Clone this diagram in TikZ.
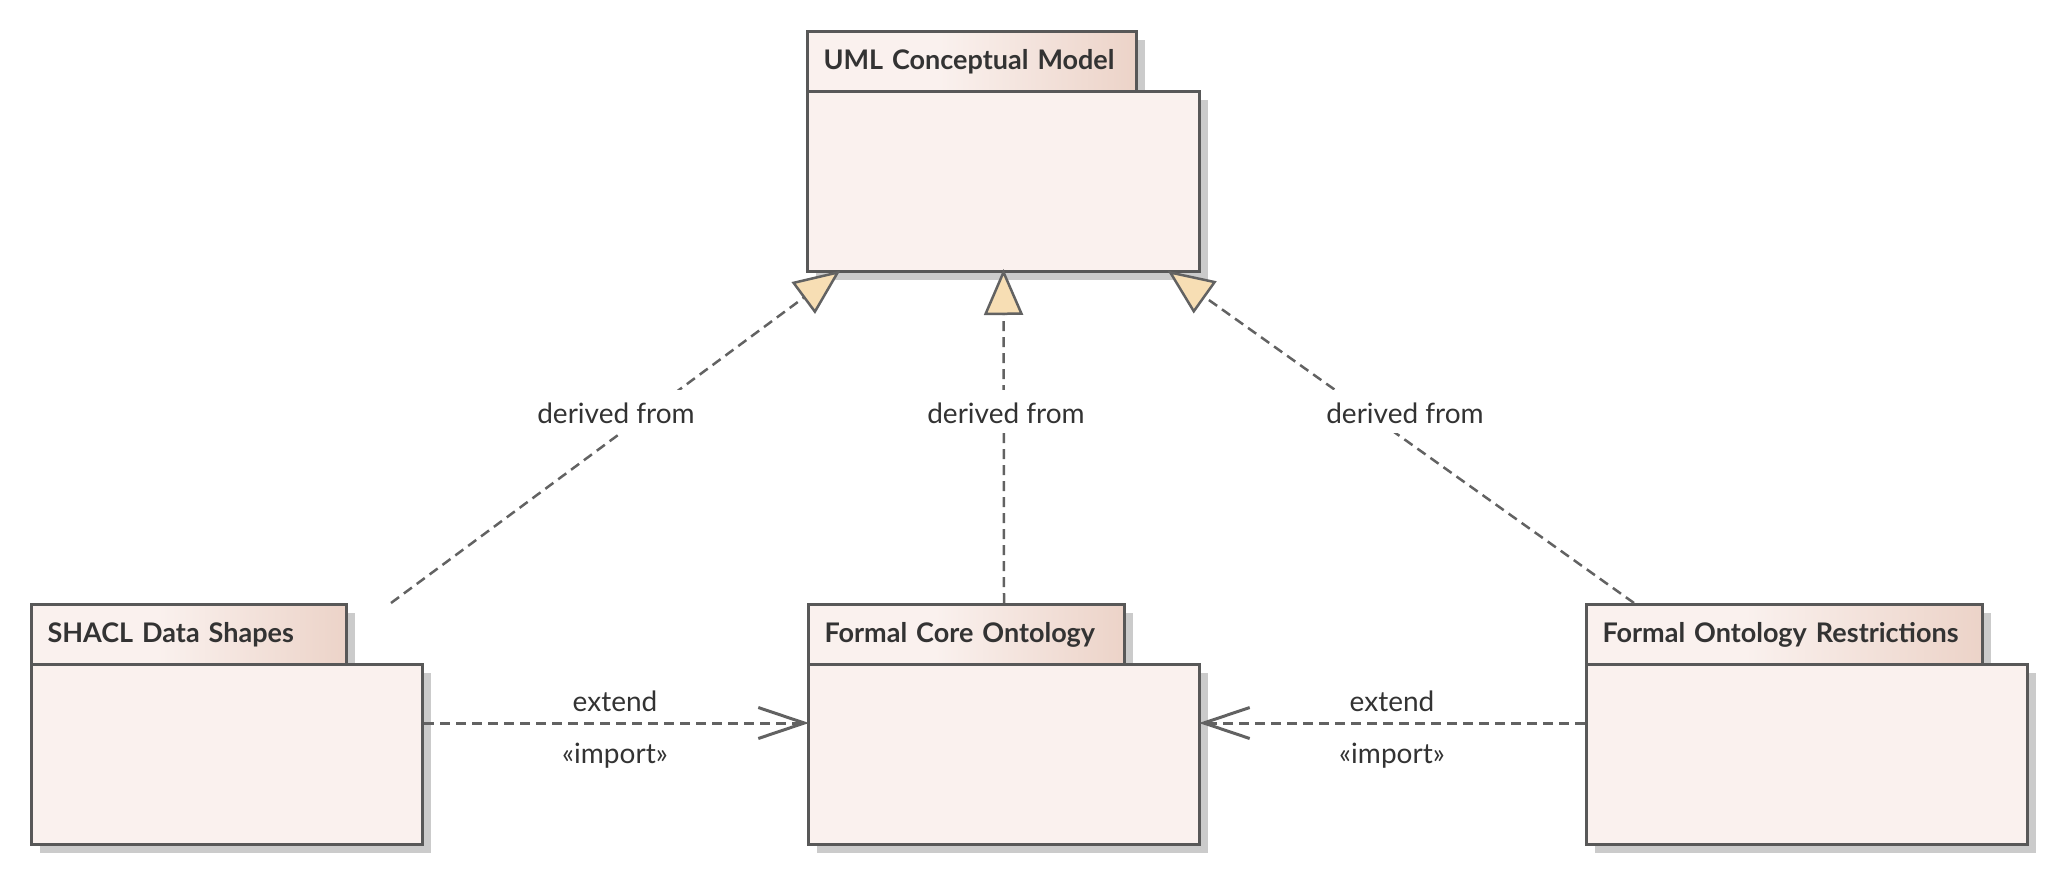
\documentclass[tikz,border=0pt]{standalone}
\usepackage{fontspec}
\setmainfont{Lato}
\usetikzlibrary{arrows.meta,shadows,calc}
\definecolor{bord}{RGB}{88,88,88}
\definecolor{conn}{RGB}{98,98,98}
\definecolor{bodyfill}{RGB}{250,241,238}
\definecolor{tabL}{RGB}{250,241,238}
\definecolor{tabR}{RGB}{236,211,200}
\definecolor{shadowc}{RGB}{203,203,203}
\definecolor{trifill}{RGB}{247,222,180}
\definecolor{txt}{RGB}{51,51,51}
\pgfdeclarehorizontalshading{tabshade}{100bp}{color(0bp)=(tabL); color(25bp)=(tabL); color(45bp)=(tabL); color(75bp)=(tabR); color(100bp)=(tabR)}
\begin{document}
\begin{tikzpicture}[x=1pt,y=-1pt,
  pkgshadow/.style={drop shadow={shadow xshift=8pt,shadow yshift=-8pt,fill=shadowc,opacity=1}},
  pkgtab/.style={draw=bord,line width=3pt,shade,shading=tabshade,pkgshadow,anchor=north west,
    minimum height=60pt,inner xsep=16pt,inner ysep=0pt,align=left,
    text height=20pt,text depth=4pt,font=\bfseries\fontsize{27}{32}\selectfont,text=txt},
  pkgbody/.style={draw=bord,line width=3pt,fill=bodyfill,pkgshadow,anchor=north west,
    minimum height=180pt,inner sep=0pt},
  derline/.style={draw=conn,line width=2.5pt,dash pattern=on 10pt off 6pt,shorten >=-4pt,
    -{Triangle[length=46pt,width=39pt,fill=trifill]}},
  extline/.style={draw=conn,line width=3pt,dash pattern=on 10pt off 6pt,shorten >=-2pt,
    -{Straight Barb[length=46pt,width=31pt]}},
  dlbl/.style={fill=white,text=txt,font=\fontsize{28}{34}\selectfont,anchor=base,
    inner xsep=2pt,inner ysep=5pt,text height=28pt,text depth=5pt},
  elbl/.style={text=txt,font=\fontsize{28}{34}\selectfont,anchor=base,inner sep=0pt}
]
\useasboundingbox (0,0) rectangle (2055,873);

% packages
\node[pkgtab,text width=297pt] (umltab) at (806,30) {UML Conceptual Model};
\node[pkgbody,minimum width=392pt] (umlbody) at (806,90) {};

\node[pkgtab,text width=283pt] (shacltab) at (30,603) {SHACL Data Shapes};
\node[pkgbody,minimum width=391pt] (shaclbody) at (30,663) {};

\node[pkgtab,text width=284pt] (fctab) at (807,603) {Formal Core Ontology};
\node[pkgbody,minimum width=391pt] (fcbody) at (807,663) {};

\node[pkgtab,text width=364pt] (fortab) at (1585,603) {Formal Ontology Restrictions};
\node[pkgbody,minimum width=441pt] (forbody) at (1585,663) {};

% connector end points
\coordinate (d1s) at ($(shaclbody.east |- shacltab.north)+(-33,0)$);
\coordinate (d1e) at ($(umlbody.south west)+(31,0)$);
\coordinate (d2s) at (fcbody.north |- fctab.north);
\coordinate (d2e) at (umlbody.south);
\coordinate (d3s) at ($(forbody.west |- fortab.north)+(49,0)$);
\coordinate (d3e) at ($(umlbody.south east)+(-30,0)$);

% derived from
\draw[derline] (d1s) -- (d1e);
\draw[derline] (d2s) -- (d2e);
\draw[derline] (d3s) -- (d3e);
\node[dlbl] (l1) at (616,423) {derived from};
\node[dlbl] (l2) at (1006,423) {derived from};
\node[dlbl] (l3) at (1405,423) {derived from};

% extend / import
\draw[extline] ([yshift=-60pt]shaclbody.north east) -- ([yshift=-60pt]fcbody.north west);
\draw[extline] ([yshift=-60pt]forbody.north west) -- ([yshift=-60pt]fcbody.north east);
\node[elbl] (e1) at (615,711) {extend};
\node[elbl] (i1) at (615,763) {«import»};
\node[elbl] (e2) at (1392,711) {extend};
\node[elbl] (i2) at (1392,763) {«import»};
\end{tikzpicture}
\end{document}
